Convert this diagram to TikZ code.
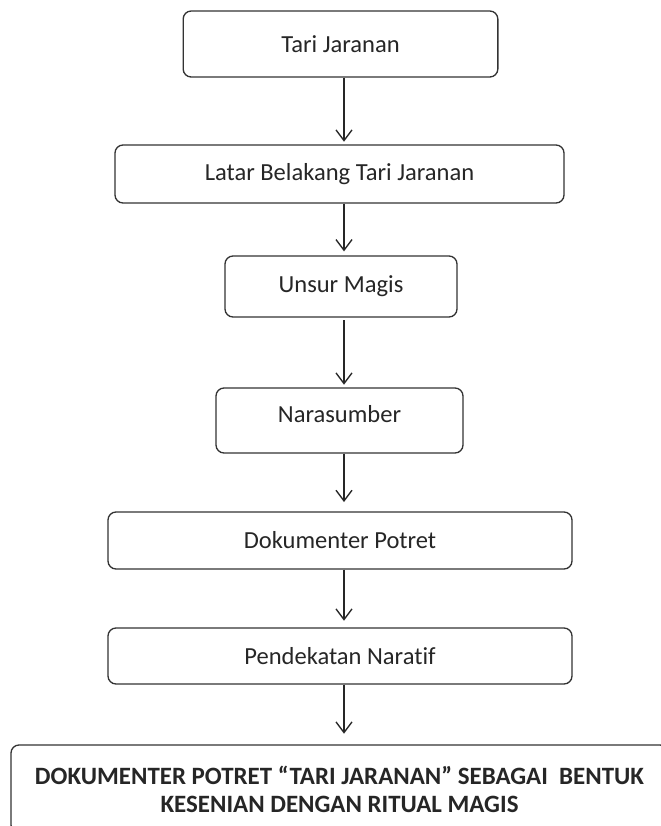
\documentclass[tikz,border=0pt]{standalone}
\usepackage{fontspec}
\setmainfont[Ligatures=NoCommon]{Carlito}
\usetikzlibrary{arrows.meta}

\tikzset{
  stepbox/.style={draw=black!80, line width=1pt, rounded corners=6pt,
    text=black!85, font=\fontsize{18.4}{22}\selectfont, align=center,
    inner sep=0pt},
  flow/.style={draw=black!85, line width=1pt,
    -{Straight Barb[length=8pt, width=12pt, line width=1pt]}}
}

\begin{document}
\begin{tikzpicture}[x=0.75pt, y=-0.75pt]
    % Fix the page size
    \clip (0,0) rectangle (661,826);
    \fill[white] (0,0) rectangle (661,826);

    % Line on which the arrows run
    \coordinate (spine) at (344,0);

    % Draw the boxes
    \node[stepbox, minimum width=236pt, minimum height=49.5pt] (tari) at (340.5,44) {Tari Jaranan};
    \node[stepbox, minimum width=336.75pt, minimum height=43.5pt] (latar) at (339.5,174) {Latar Belakang Tari Jaranan};
    \node[stepbox, minimum width=174pt, minimum height=45.75pt] (magis) at (341,286.5) {Unsur Magis};
    \node[stepbox, minimum width=185.25pt, minimum height=48.75pt, text depth=10pt] (nara) at (339.5,420.5) {Narasumber};
    \node[stepbox, minimum width=348pt, minimum height=42.75pt] (potret) at (340,540.5) {Dokumenter Potret};
    \node[stepbox, minimum width=348pt, minimum height=42pt] (naratif) at (340,656) {Pendekatan Naratif};
    \node[stepbox, minimum width=492.75pt, minimum height=66pt,
          font=\fontsize{18.7}{21}\selectfont\bfseries] (hasil) at (339.5,789)
          {DOKUMENTER POTRET “TARI JARANAN” SEBAGAI\ \ BENTUK\\KESENIAN DENGAN RITUAL MAGIS};

    % Draw the arrows
    \draw[flow, shorten >=2pt] (tari.south -| spine) -- (latar.north -| spine);
    \draw[flow, shorten >=3pt] (latar.south -| spine) -- (magis.north -| spine);
    \draw[flow, shorten <=2pt, shorten >=2pt] (magis.south -| spine) -- (nara.north -| spine);
    \draw[flow, shorten >=7pt] (nara.south -| spine) -- (potret.north -| spine);
    \draw[flow, shorten >=5pt] (potret.south -| spine) -- (naratif.north -| spine);
    \draw[flow, shorten >=8pt] (naratif.south -| spine) -- (hasil.north -| spine);
\end{tikzpicture}
\end{document}
